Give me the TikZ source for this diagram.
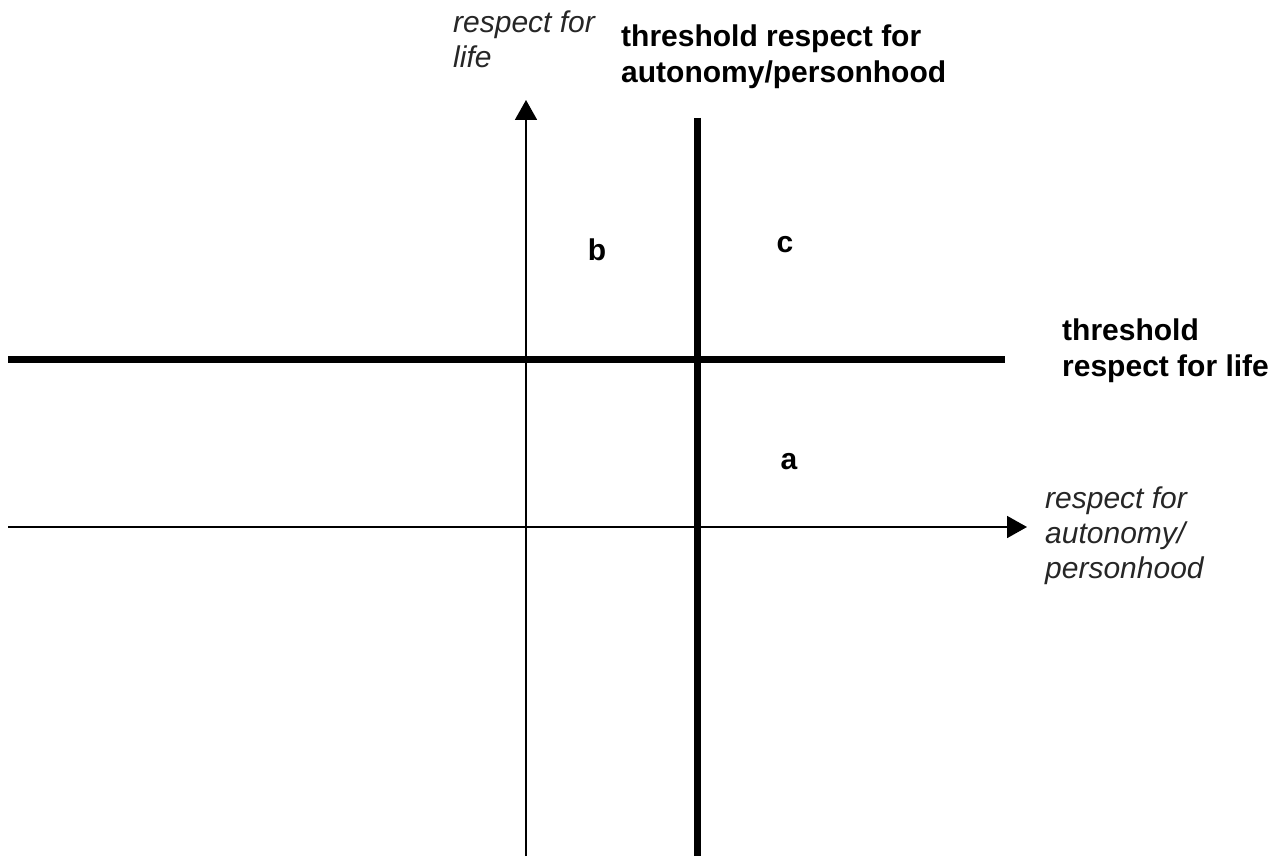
\documentclass[tikz,border=0pt]{standalone}
\usepackage{fontspec}
\setmainfont{Liberation Sans}
\usetikzlibrary{arrows.meta}
\begin{document}
\begin{tikzpicture}[x=1pt,y=-1pt,
  thinaxis/.style={line width=1.8pt,-{Triangle[length=20pt,width=22pt]}},
  thickline/.style={line width=7pt},
  axislabel/.style={font=\fontsize{30}{35}\selectfont\itshape,align=left,anchor=north west,inner sep=0pt,text=black!85},
  threshlabel/.style={font=\fontsize{30}{36}\selectfont\bfseries,align=left,anchor=north west,inner sep=0pt},
  region/.style={font=\fontsize{30}{36}\selectfont\bfseries,inner sep=0pt}]
\useasboundingbox (0,0) rectangle (1281,856);
% axis end points
\coordinate (vbot) at (526,856);
\coordinate (vtop) at (526,100);
\coordinate (hleft) at (8,527);
\coordinate (hright) at (1027,527);
\coordinate (tvtop) at (697,118);
\coordinate (tvbot) at (697,856);
\coordinate (thleft) at (8,359);
\coordinate (thright) at (1005,359);
% lines
\draw[thinaxis] (vbot) -- (vtop);
\draw[thinaxis] (hleft) -- (hright);
\draw[thickline] (tvtop) -- (tvbot);
\draw[thickline] (thleft) -- (thright);
% labels
\node[axislabel] (ylab) at (453,11) {respect for\\life};
\node[threshlabel] (tauto) at (621,25) {threshold respect for\\autonomy/personhood};
\node[threshlabel] (tlife) at (1062,319) {threshold\\respect for life};
\node[axislabel] (xlab) at (1045,487) {respect for\\autonomy/\\personhood};
\node[region] (b) at (597,250) {b};
\node[region] (c) at (785,245) {c};
\node[region] (a) at (789,462) {a};
\end{tikzpicture}
\end{document}
